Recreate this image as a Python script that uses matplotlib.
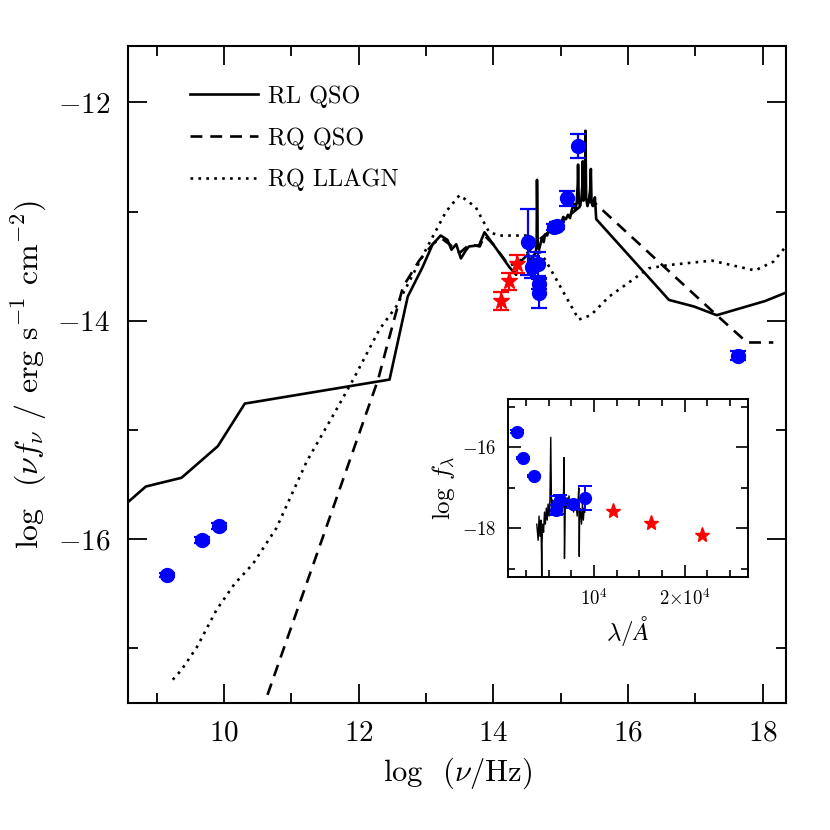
import matplotlib
matplotlib.use("Agg")
import matplotlib.pyplot as plt
from matplotlib.ticker import MultipleLocator, FixedLocator, FuncFormatter

plt.rcParams['font.family'] = ['cmr10', 'DejaVu Serif']
plt.rcParams['mathtext.fontset'] = 'cm'
plt.rcParams['axes.unicode_minus'] = False

# RL QSO template (solid) incl. optical spectrum
rl_x = [8.58, 8.84, 9.37, 9.91, 10.31, 12.46, 12.73, 12.95, 13.10, 13.22, 13.32, 13.38, 13.45,
        13.52, 13.60, 13.64, 13.79, 13.87, 14.01, 14.24, 14.34,
        14.36, 14.42, 14.47, 14.52, 14.55, 14.57, 14.60, 14.63, 14.645, 14.65, 14.66, 14.68,
        14.72, 14.75, 14.77, 14.80, 14.84, 14.88, 14.92, 14.96, 15.00, 15.04, 15.08, 15.11,
        15.14, 15.17, 15.20, 15.22, 15.24, 15.255, 15.26, 15.27, 15.29, 15.31, 15.325, 15.33,
        15.34, 15.355, 15.365, 15.37, 15.38, 15.40, 15.42, 15.44, 15.45, 15.46, 15.48, 15.51,
        15.53, 16.61, 16.98, 17.32, 18.04, 18.40]
rl_y = [-15.66, -15.52, -15.44, -15.15, -14.76, -14.54, -13.78, -13.51, -13.30, -13.22, -13.26,
        -13.35, -13.30, -13.43, -13.35, -13.32, -13.31, -13.19, -13.31, -13.51, -13.58,
        -13.50, -13.45, -13.42, -13.39, -13.45, -13.51, -13.40, -13.38, -13.30, -12.71, -13.30,
        -13.35, -13.25, -13.28, -13.21, -13.22, -13.15, -13.17, -13.10, -13.09, -13.12, -13.05,
        -13.07, -13.03, -13.06, -12.98, -12.93, -12.98, -12.92, -12.75, -12.57, -12.90, -12.95,
        -12.88, -12.75, -12.54, -12.90, -12.85, -12.70, -12.26, -12.88, -12.95, -12.90, -12.80,
        -12.61, -12.92, -12.95, -12.87, -13.07, -13.81, -13.87, -13.95, -13.82, -13.73]

# RQ QSO template (dashed)
rq_x = [10.55, 12.29, 12.41, 12.66, 12.90, 13.10, 13.22, 13.35, 13.50, 13.65, 13.80, 13.87,
        14.00, 14.24, 14.40, 14.70, 15.00, 15.30, 15.47, 17.32, 17.77, 18.16]
rq_y = [-17.60, -14.54, -14.26, -13.69, -13.45, -13.30, -13.24, -13.30, -13.38, -13.30, -13.32,
        -13.22, -13.30, -13.50, -13.45, -13.25, -13.10, -12.95, -12.90, -13.95, -14.20, -14.20]

# RQ LLAGN template (dotted)
ll_x = [9.24, 9.37, 9.60, 9.89, 10.16, 10.43, 10.78, 11.23, 11.62, 11.92, 12.31, 12.56, 13.05,
        13.30, 13.50, 13.74, 13.94, 14.10, 14.29, 14.53, 14.78, 15.08, 15.27, 15.45, 15.72,
        16.31, 16.61, 17.25, 17.60, 17.89, 18.16, 18.40]
ll_y = [-17.29, -17.20, -16.99, -16.65, -16.41, -16.23, -15.90, -15.29, -14.87, -14.54, -14.08,
        -13.87, -13.29, -13.00, -12.85, -12.96, -13.19, -13.22, -13.22, -13.22, -13.45, -13.78,
        -13.99, -13.95, -13.78, -13.52, -13.49, -13.45, -13.50, -13.54, -13.46, -13.28]

# photometry (blue)
ph_x = [9.15, 9.68, 9.92, 14.51, 14.58, 14.67, 14.68, 14.68, 14.90, 14.95, 15.09, 15.26, 17.64]
ph_y = [-16.33, -16.01, -15.88, -13.28, -13.51, -13.48, -13.66, -13.75, -13.14, -13.13, -12.88,
        -12.40, -14.32]
ph_e = [0.02, 0.03, 0.03, 0.30, 0.10, 0.11, 0.05, 0.13, 0.03, 0.03, 0.07, 0.11, 0.04]

# near-IR (red stars)
ir_x = [14.11, 14.24, 14.36]
ir_y = [-13.82, -13.64, -13.48]
ir_e = [0.08, 0.08, 0.08]

# inset: spectrum and photometry vs wavelength
sp_lam = [3700, 3850, 3950, 4050, 4150, 4220, 4250, 4280, 4350, 4450, 4550, 4650, 4750, 4850,
          4950, 5050, 5150, 5240, 5330, 5450, 5550, 5650, 5750, 5850, 5950, 6050, 6150, 6250,
          6350, 6450, 6550, 6650, 6700, 6750, 6850, 6950, 7050, 7150, 7250, 7350, 7450, 7550,
          7650, 7750, 7850, 7950, 8050, 8150, 8250, 8330, 8380, 8430, 8530, 8630, 8730, 8830,
          8930, 9000]
sp_f = [-17.9, -18.3, -17.7, -18.2, -17.8, -18.6, -19.4, -18.4, -17.9, -18.1, -17.6, -17.9,
        -17.5, -17.8, -17.4, -17.7, -17.3, -15.75, -17.6, -17.3, -17.5, -17.4, -17.6, -17.35,
        -17.5, -17.3, -17.45, -17.2, -17.5, -17.3, -17.4, -17.1, -16.25, -18.75, -17.3, -17.5,
        -17.25, -17.45, -17.2, -17.5, -17.35, -17.55, -17.3, -17.6, -17.4, -17.5, -17.45, -17.7,
        -17.3, -17.0, -18.7, -17.5, -17.6, -17.9, -17.4, -17.8, -17.5, -17.6]
in_lam = [-300, 1505, 2231, 3440, 5824, 5967, 6264, 7659, 9011]
in_f = [-15.12, -15.61, -16.26, -16.71, -17.55, -17.42, -17.30, -17.41, -17.26]
in_e = [0.0, 0.03, 0.03, 0.03, 0.12, 0.22, 0.12, 0.10, 0.30]
ir_lam = [12121, 16264, 21901]
ir_f = [-17.57, -17.86, -18.17]

fig = plt.figure(figsize=(8.3, 8.3), dpi=100)
ax = fig.add_axes([0.1546, 0.1535, 0.7925, 0.7915])

ax.plot(rl_x, rl_y, 'k-', lw=1.9, label='RL QSO')
ax.plot(rq_x, rq_y, 'k', lw=1.9, ls=(0, (4.5, 3)), label='RQ QSO')
ax.plot(ll_x, ll_y, 'k', lw=1.9, ls=(0, (1, 2)), label='RQ LLAGN')
ax.errorbar(ph_x, ph_y, yerr=ph_e, fmt='o', color='blue', ms=10, capsize=6, elinewidth=1.6,
            capthick=1.6, zorder=4)
ax.errorbar(ir_x, ir_y, yerr=ir_e, fmt='*', color='red', ms=12, capsize=6, elinewidth=1.6,
            capthick=1.6, zorder=4)

ax.set_xlim(8.58, 18.35)
ax.set_ylim(-17.5, -11.48)
ax.xaxis.set_major_locator(MultipleLocator(2))
ax.xaxis.set_minor_locator(MultipleLocator(1))
ax.yaxis.set_major_locator(MultipleLocator(2))
ax.yaxis.set_minor_locator(MultipleLocator(1))
ax.xaxis.set_major_formatter(FuncFormatter(lambda v, p: r'$%d$' % round(v)))
ax.yaxis.set_major_formatter(FuncFormatter(lambda v, p: r'$%d$' % round(v)))
ax.tick_params(which='both', direction='in', top=True, right=True, width=1.3, labelsize=21)
ax.tick_params(which='major', length=14, pad=13)
ax.tick_params(which='minor', length=7)
for s in ax.spines.values():
    s.set_linewidth(1.5)
ax.set_xlabel(r'log  $(\nu$/Hz$)$', fontsize=22, labelpad=6)
ax.set_ylabel(r'log  $(\nu f_\nu$ / erg s$^{-1}$ cm$^{-2})$', fontsize=23, labelpad=6)

ax.legend(loc='upper left', bbox_to_anchor=(0.094, 0.94), frameon=False, fontsize=17.5,
          handlelength=2.8, handletextpad=0.4, labelspacing=0.8, borderpad=0, borderaxespad=0)

# inset
ins = fig.add_axes([0.6117, 0.3052, 0.2899, 0.2141])
ins.plot(sp_lam, sp_f, 'k-', lw=1.0)
ins.errorbar(in_lam, in_f, yerr=in_e, fmt='o', color='blue', ms=8.5, capsize=5, elinewidth=1.4,
             capthick=1.4, zorder=4)
ins.plot(ir_lam, ir_f, '*', color='red', ms=11, zorder=4)
ins.set_xlim(500, 27000)
ins.set_ylim(-19.2, -14.8)
ins.xaxis.set_major_locator(FixedLocator([10000, 20000]))
ins.xaxis.set_minor_locator(MultipleLocator(2500))
ins.yaxis.set_major_locator(MultipleLocator(2))
ins.yaxis.set_minor_locator(MultipleLocator(1))
ins.xaxis.set_major_formatter(FuncFormatter(
    lambda v, p: r'$10^4$' if round(v) == 10000 else r'$2{\times}10^4$'))
ins.yaxis.set_major_formatter(FuncFormatter(lambda v, p: r'$%d$' % round(v)))
ins.tick_params(which='both', direction='in', top=True, right=True, width=1.2, labelsize=13.5)
ins.tick_params(which='major', length=9, pad=8)
ins.tick_params(which='minor', length=5)
for s in ins.spines.values():
    s.set_linewidth(1.4)
ins.set_xlabel(r'$\lambda/\AA$', fontsize=18, labelpad=4)
ins.set_ylabel(r'log $f_\lambda$', fontsize=18, labelpad=4)

fig.savefig('out.png', dpi=100)
